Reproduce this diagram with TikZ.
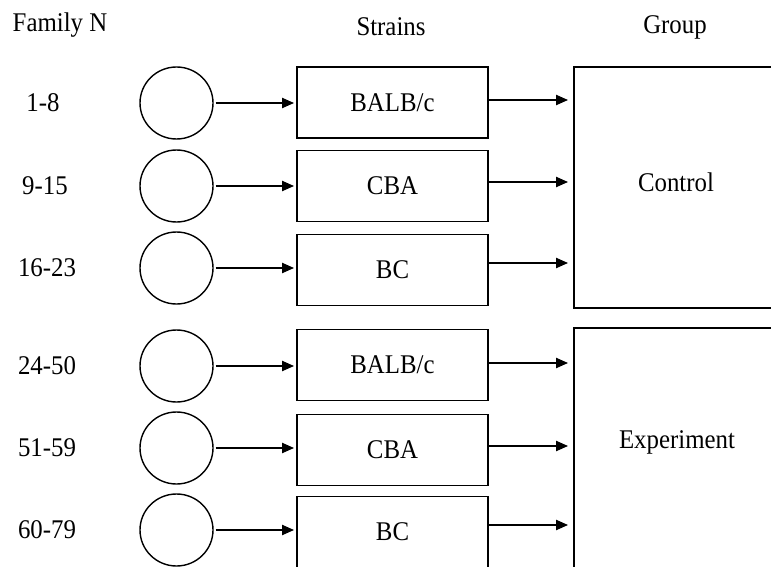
\documentclass[tikz,border=0pt]{standalone}
\usepackage{fontspec}
\setmainfont{Liberation Serif}[FakeStretch=0.92]
\usetikzlibrary{arrows.meta,shapes.geometric}
\begin{document}
\begin{tikzpicture}[x=1pt,y=-1pt,
  txt/.style={font=\fontsize{27}{30}\selectfont, inner sep=0pt},
  fam/.style={draw, ellipse, line width=1.4pt, minimum width=73pt, minimum height=72pt, inner sep=0pt},
  strainbox/.style={draw, line width=1.8pt, minimum width=191pt, minimum height=71pt, inner sep=0pt, font=\fontsize{27}{30}\selectfont},
  groupbox/.style={draw, line width=1.8pt, minimum width=226pt, inner sep=0pt},
  arr/.style={line width=2pt, -{Triangle[length=12pt,width=10pt]}}
]
\useasboundingbox (0,0) rectangle (771,567);
\clip (0,0) rectangle (771,567);
\fill[white] (0,0) rectangle (771,567);

% headers
\node[txt] (hfam) at (60,25) {Family N};
\node[txt] (hstr) at (391,27) {Strains};
\node[txt] (hgrp) at (675,27) {Group};

% group boxes
\node[groupbox, minimum height=241pt] (ctrl) at (687,187.5) {};
\node[txt] (ctrll) at (676,182) {Control};
\node[groupbox, minimum height=282pt] (expt) at (687,469) {};
\node[txt] (exptl) at (677,442) {Experiment};

% rows
\foreach \i/\lab/\lx/\cy/\sy/\st/\up/\grp in {
  1/1-8/43/103/102.5/BALB\slash c/2.5/ctrl,
  2/9-15/45/186/186/CBA/4/ctrl,
  3/16-23/47/268/270/BC/7/ctrl,
  4/24-50/47/366/365/BALB\slash c/2/expt,
  5/51-59/47/448/450/CBA/4/expt,
  6/60-79/47/530/532/BC/7/expt}{
  \node[txt] (n\i) at (\lx,\cy) {\lab};
  \node[fam] (c\i) at (176.5,\cy) {};
  \node[strainbox] (s\i) at (392.5,\sy) {\st};
  \draw[arr, shorten >=2pt, shorten <=2pt] (c\i.east) -- (c\i.east -| s\i.west);
  \draw[arr, shorten >=5pt] ([yshift=\up pt]s\i.east) -- ([yshift=\up pt]s\i.east -| \grp.west);
}
\end{tikzpicture}
\end{document}
